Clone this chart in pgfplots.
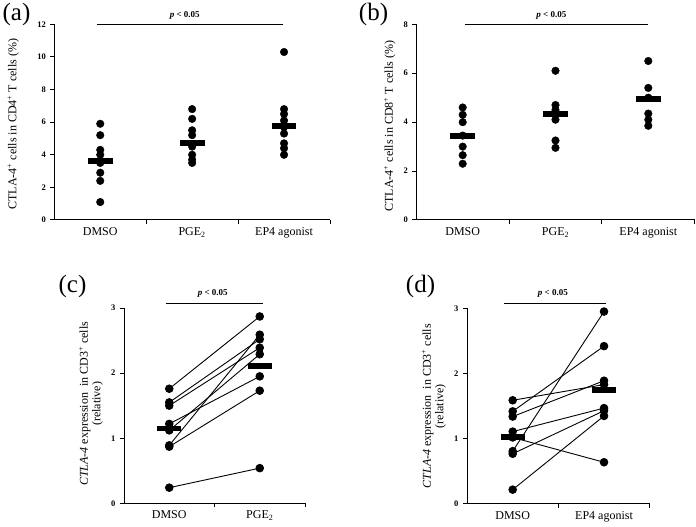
\documentclass[border=0pt]{standalone}
\usepackage{pgfplots}
\pgfplotsset{compat=1.18}
\usepackage{fontspec}
\setmainfont{Liberation Serif}
\newcommand{\lf}{\fontsize{12}{12.5}\selectfont}
\tikzset{ylab/.style={font=\lf, rotate=90, anchor=center, align=center, inner sep=0pt}}
\pgfplotsset{
  panel/.style={
    scale only axis,
    axis lines=left,
    axis line style={-, line width=1pt},
    tick align=outside,
    major tick length=4pt,
    tick style={line width=1pt, black},
    /pgf/number format/assume math mode=true,
    yticklabel style={font=\bfseries\fontsize{8.5}{9}\selectfont, xshift=-1pt},
    xticklabel style={font=\fontsize{12}{13}\selectfont, yshift=-4pt},
    clip=false,
    xticklabels={},
    extra x tick style={major tick length=0pt},
  },
  dots/.style={only marks, mark=*, mark size=3.8pt, black},
  mbar/.style={black, line width=5.8pt, no marks},
  pair/.style={black, line width=0.9pt, mark=*, mark size=3.8pt, mark options={solid}},
}
\begin{document}
\begin{tikzpicture}[x=1pt,y=1pt]
\path[use as bounding box] (0,0) rectangle (696,527);
% (a)
\begin{axis}[panel, at={(54.3pt,307pt)}, anchor=south west,
  width=275.7pt, height=195.7pt,
  xmin=0.5, xmax=3.5, ymin=0, ymax=12,
  ytick={0,2,4,6,8,10,12},
  xtick={1.5,2.5,3.5},
  extra x ticks={1,2,3},
  extra x tick labels={DMSO, PGE\textsubscript{2}, EP4 agonist},
]
\addplot[dots] coordinates {(1,5.9) (1,5.2) (1,4.3) (1,4.0) (1,3.5) (1,2.9) (1,2.4) (1,1.1)};
\addplot[dots] coordinates {(2,6.8) (2,6.2) (2,5.5) (2,5.2) (2,4.5) (2,4.0) (2,3.7) (2,3.5)};
\addplot[dots] coordinates {(3,10.3) (3,6.8) (3,6.5) (3,6.1) (3,5.7) (3,5.3) (3,4.7) (3,4.4) (3,4.0)};
\addplot[mbar] coordinates {(0.865,3.6) (1.135,3.6)};
\addplot[mbar] coordinates {(1.865,4.7) (2.135,4.7)};
\addplot[mbar] coordinates {(2.865,5.75) (3.135,5.75)};
\draw[line width=0.9pt] (axis cs:0.96,12) -- (axis cs:2.99,12);
\node[font=\bfseries\fontsize{9}{10}\selectfont] at (axis cs:1.92,12) [yshift=9.3pt] {\textit{p} < 0.05};
\node[ylab] at (axis description cs:-0.149,0.49) {CTLA-4\textsuperscript{+} cells in CD4\textsuperscript{+} T cells (\%)};
\end{axis}
% (b)
\begin{axis}[panel, at={(416.3pt,307pt)}, anchor=south west,
  width=278.4pt, height=195.7pt,
  xmin=0.5, xmax=3.5, ymin=0, ymax=8,
  ytick={0,2,4,6,8},
  xtick={1.5,2.5,3.5},
  extra x ticks={1,2,3},
  extra x tick labels={DMSO, PGE\textsubscript{2}, EP4 agonist},
]
\addplot[dots] coordinates {(1,4.6) (1,4.3) (1,4.0) (1,3.45) (1,3.0) (1,2.65) (1,2.3)};
\addplot[dots] coordinates {(2,6.1) (2,4.7) (2,4.5) (2,4.3) (2,4.1) (2,3.25) (2,2.95)};
\addplot[dots] coordinates {(3,6.5) (3,5.4) (3,5.0) (3,4.35) (3,4.1) (3,3.85)};
\addplot[mbar] coordinates {(0.865,3.45) (1.135,3.45)};
\addplot[mbar] coordinates {(1.865,4.32) (2.135,4.32)};
\addplot[mbar] coordinates {(2.865,4.93) (3.135,4.93)};
\draw[line width=0.9pt] (axis cs:1.02,8) -- (axis cs:3.0,8);
\node[font=\bfseries\fontsize{9}{10}\selectfont] at (axis cs:1.955,8) [yshift=9.3pt] {\textit{p} < 0.05};
\node[ylab] at (axis description cs:-0.0955,0.48) {CTLA-4\textsuperscript{+} cells in CD8\textsuperscript{+} T cells (\%)};
\end{axis}
% (c)
\begin{axis}[panel, at={(124pt,23.7pt)}, anchor=south west,
  width=181pt, height=195.3pt,
  xmin=0.5, xmax=2.5, ymin=0, ymax=3,
  ytick={0,1,2,3},
  xtick={1.5,2.5},
  extra x ticks={1,2},
  extra x tick labels={DMSO, PGE\textsubscript{2}},
]
\addplot[pair] coordinates {(1,1.76) (2,2.87)};
\addplot[pair] coordinates {(1,1.55) (2,2.52)};
\addplot[pair] coordinates {(1,1.50) (2,2.39)};
\addplot[pair] coordinates {(1,1.22) (2,1.95)};
\addplot[pair] coordinates {(1,1.12) (2,2.29)};
\addplot[pair] coordinates {(1,0.89) (2,2.59)};
\addplot[pair] coordinates {(1,0.87) (2,1.73)};
\addplot[pair] coordinates {(1,0.24) (2,0.54)};
\addplot[mbar] coordinates {(0.87,1.15) (1.13,1.15)};
\addplot[mbar] coordinates {(1.87,2.11) (2.13,2.11)};
\draw[line width=0.9pt] (axis cs:0.96,3.072) -- (axis cs:2.04,3.072);
\node[font=\bfseries\fontsize{9}{10}\selectfont] at (axis cs:1.48,3) [yshift=15pt] {\textit{p} < 0.05};
\node[ylab] at (axis description cs:-0.182,0.51) {\textit{CTLA-4} expression\ \ in CD3\textsuperscript{+} cells\\(relative)};
\end{axis}
% (d)
\begin{axis}[panel, at={(467pt,23pt)}, anchor=south west,
  width=182.7pt, height=195.7pt,
  xmin=0.5, xmax=2.5, ymin=0, ymax=3,
  ytick={0,1,2,3},
  xtick={1.5,2.5},
  extra x ticks={1,2},
  extra x tick labels={DMSO, EP4 agonist},
]
\addplot[pair] coordinates {(1,1.59) (2,1.83)};
\addplot[pair] coordinates {(1,1.42) (2,2.42)};
\addplot[pair] coordinates {(1,1.34) (2,1.89)};
\addplot[pair] coordinates {(1,1.11) (2,1.47)};
\addplot[pair] coordinates {(1,1.02) (2,0.64)};
\addplot[pair] coordinates {(1,0.81) (2,2.95)};
\addplot[pair] coordinates {(1,0.77) (2,1.43)};
\addplot[pair] coordinates {(1,0.22) (2,1.35)};
\addplot[mbar] coordinates {(0.87,1.03) (1.13,1.03)};
\addplot[mbar] coordinates {(1.87,1.75) (2.13,1.75)};
\draw[line width=0.9pt] (axis cs:0.91,3.072) -- (axis cs:2.02,3.072);
\node[font=\bfseries\fontsize{9}{10}\selectfont] at (axis cs:1.44,3) [yshift=15pt] {\textit{p} < 0.05};
\node[ylab] at (axis description cs:-0.181,0.5) {\textit{CTLA-4} expression\ \ in CD3\textsuperscript{+} cells\\(relative)};
\end{axis}
% panel letters
\node[font=\fontsize{25}{27}\selectfont, inner sep=0pt] at (16.5,512.5) {(a)};
\node[font=\fontsize{25}{27}\selectfont, inner sep=0pt] at (373.5,512.5) {(b)};
\node[font=\fontsize{25}{27}\selectfont, inner sep=0pt] at (72.5,241) {(c)};
\node[font=\fontsize{25}{27}\selectfont, inner sep=0pt] at (420.5,241) {(d)};
\end{tikzpicture}
\end{document}
